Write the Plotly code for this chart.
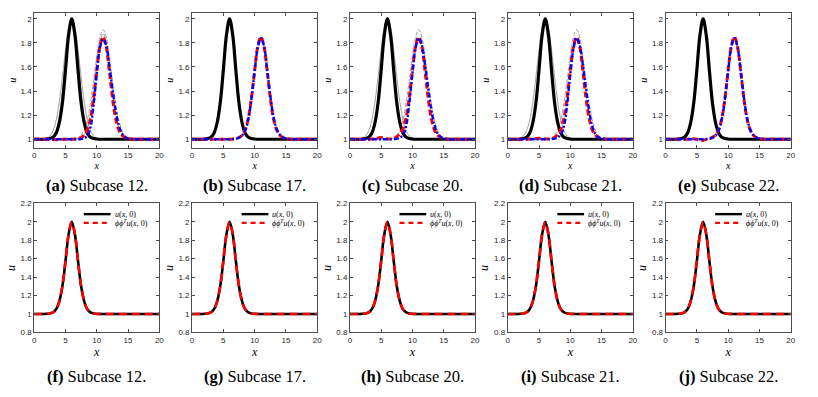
import plotly.graph_objects as go

W, H = 818, 397

# grid of x samples (0 .. 20, step 0.5)
X = [0, 0.5, 1, 1.5, 2, 2.5, 3, 3.5, 4, 4.5,
     5, 5.5, 6, 6.5, 7, 7.5, 8, 8.5, 9, 9.5,
     10, 10.5, 11, 11.5, 12, 12.5, 13, 13.5, 14, 14.5,
     15, 15.5, 16, 16.5, 17, 17.5, 18, 18.5, 19, 19.5,
     20]

SUBCASES = [12, 17, 20, 21, 22]
LETTERS_TOP = ["a", "b", "c", "d", "e"]
LETTERS_BOT = ["f", "g", "h", "i", "j"]

# initial condition u(x,0)
U0 = [1, 1, 1, 1, 1.002, 1.006, 1.017, 1.05, 1.135, 1.30,
      1.575, 1.865, 2.0, 1.865, 1.575, 1.30, 1.135, 1.05, 1.017, 1.006,
      1.002, 1, 1, 1, 1, 1, 1, 1, 1, 1,
      1, 1, 1, 1, 1, 1, 1, 1, 1, 1,
      1]

# projection phi phi^T u(x,0)
PROJ = [1.0, 1.0, 1.0, 1.001, 1.001, 1.006, 1.018, 1.05, 1.135, 1.30,
        1.575, 1.865, 1.995, 1.865, 1.575, 1.30, 1.135, 1.05, 1.016, 1.004,
        0.999, 1.001, 1.0, 1.0, 0.999, 1.0, 1.001, 1.0, 1.0, 1.0,
        1.0, 1.0, 1.0, 1.0, 1.0, 1.0, 1.0, 1.0, 1.0, 1.0,
        1.0]

# reference solutions at final time (red dashed)
RED_12 = [1, 1, 1, 1, 1, 1, 0.997, 0.996, 0.998, 1,
          1, 1, 1, 1.002, 1.005, 1.014, 1.035, 1.08, 1.175, 1.345,
          1.57, 1.77, 1.85, 1.77, 1.57, 1.345, 1.175, 1.08, 1.035, 1.014,
          1.005, 1.002, 1, 1, 1, 1, 1, 1, 1, 1,
          1]
RED_17 = [1, 1, 1, 1, 1, 1, 1, 1, 1, 1,
          1, 1, 1, 1.002, 1.005, 1.014, 1.035, 1.08, 1.175, 1.345,
          1.57, 1.77, 1.85, 1.77, 1.57, 1.345, 1.175, 1.08, 1.035, 1.014,
          1.005, 1.002, 1, 1, 1, 1, 1, 1, 1, 1,
          1]
RED_20 = [1, 1, 1, 1, 1, 1, 1, 1.002, 1.005, 1.01,
          1.015, 1.01, 1.003, 1.003, 1.008, 1.02, 1.045, 1.09, 1.185, 1.35,
          1.57, 1.77, 1.85, 1.77, 1.57, 1.345, 1.175, 1.08, 1.035, 1.014,
          1.005, 1.002, 1, 1, 1, 1, 1, 1, 1, 1,
          1]
RED_21 = [1, 1, 1, 1, 1, 1, 1, 1.001, 1.003, 1.006,
          1.008, 1.005, 1.002, 1.003, 1.007, 1.017, 1.04, 1.085, 1.18, 1.35,
          1.57, 1.77, 1.85, 1.77, 1.57, 1.345, 1.175, 1.08, 1.035, 1.014,
          1.005, 1.002, 1, 1, 1, 1, 1, 1, 1, 1,
          1]
RED_22 = [1, 1, 1, 1, 1, 1, 1, 1, 1.002, 1.005,
          1.0, 0.992, 0.99, 1.0, 1.007, 1.016, 1.035, 1.08, 1.175, 1.345,
          1.57, 1.77, 1.85, 1.77, 1.57, 1.345, 1.175, 1.08, 1.035, 1.014,
          1.005, 1.002, 1, 1, 1, 1, 1, 1, 1, 1,
          1]

# ROM predictions (blue dash-dot)
BLUE_12 = [1, 1, 1, 1, 1, 1, 1, 1, 1, 1,
           1, 1, 1, 1, 1.0, 1.002, 1.008, 1.03, 1.10, 1.29,
           1.55, 1.76, 1.83, 1.78, 1.61, 1.42, 1.24, 1.12, 1.05, 1.02,
           1.007, 1.002, 1, 1, 1, 1, 1, 1, 1, 1,
           1]
BLUE_17 = [1, 1, 1, 1, 1, 1, 1, 1, 1, 1,
           1, 1, 1, 1.001, 1.004, 1.012, 1.032, 1.075, 1.17, 1.34,
           1.56, 1.76, 1.84, 1.775, 1.58, 1.36, 1.19, 1.09, 1.04, 1.016,
           1.006, 1.002, 1, 1, 1, 1, 1, 1, 1, 1,
           1]
BLUE_20 = [1, 1, 1, 1, 1, 1, 1, 1, 1, 1,
           1, 1, 1, 1, 1.001, 1.004, 1.012, 1.035, 1.11, 1.30,
           1.55, 1.76, 1.84, 1.78, 1.62, 1.43, 1.25, 1.12, 1.05, 1.02,
           1.007, 1.002, 1, 1, 1, 1, 1, 1, 1, 1,
           1]
BLUE_21 = [1, 1, 1, 1, 1, 1, 1, 1, 1, 1,
           1, 1, 1, 1, 1.001, 1.005, 1.015, 1.04, 1.11, 1.29,
           1.54, 1.75, 1.84, 1.78, 1.62, 1.42, 1.24, 1.11, 1.045, 1.017,
           1.006, 1.002, 1, 1, 1, 1, 1, 1, 1, 1,
           1]
BLUE_22 = [1, 1, 1, 1, 1, 1, 1, 1, 1, 1,
           1, 1, 1, 1.001, 1.004, 1.012, 1.032, 1.075, 1.17, 1.34,
           1.565, 1.765, 1.84, 1.765, 1.575, 1.355, 1.185, 1.085, 1.038, 1.015,
           1.005, 1.002, 1, 1, 1, 1, 1, 1, 1, 1,
           1]

# thin grey training curves (initial, final)
GREY_INIT_WIDE = [1, 1, 1, 1.002, 1.009, 1.027, 1.07, 1.157, 1.306, 1.514,
                  1.744, 1.929, 2.0, 1.929, 1.744, 1.514, 1.306, 1.157, 1.07, 1.027,
                  1.009, 1.002, 1, 1, 1, 1, 1, 1, 1, 1,
                  1, 1, 1, 1, 1, 1, 1, 1, 1, 1,
                  1]
GREY_INIT_NARROW = [1, 1, 1, 1, 1.001, 1.006, 1.024, 1.076, 1.191, 1.395,
                    1.662, 1.902, 2.0, 1.902, 1.662, 1.395, 1.191, 1.076, 1.024, 1.006,
                    1.001, 1, 1, 1, 1, 1, 1, 1, 1, 1,
                    1, 1, 1, 1, 1, 1, 1, 1, 1, 1,
                    1]
GREY_FINAL_WIDE = [1, 1, 1, 1, 1, 1, 1, 1, 1, 1,
                   1, 1, 1.001, 1.003, 1.011, 1.032, 1.077, 1.164, 1.304, 1.491,
                   1.692, 1.85, 1.91, 1.85, 1.692, 1.491, 1.304, 1.164, 1.077, 1.032,
                   1.011, 1.003, 1.001, 1, 1, 1, 1, 1, 1, 1,
                   1]
GREY_FINAL_NARROW = [1, 1, 1, 1, 1, 1, 1, 1, 1, 1,
                     1, 1, 1, 1.001, 1.004, 1.013, 1.039, 1.1, 1.219, 1.403,
                     1.621, 1.807, 1.88, 1.807, 1.621, 1.403, 1.219, 1.1, 1.039, 1.013,
                     1.004, 1.001, 1, 1, 1, 1, 1, 1, 1, 1,
                     1]

TOP_Y_TICKS = [1, 1.2, 1.4, 1.6, 1.8, 2]
BOT_Y_TICKS = [0.8, 1, 1.2, 1.4, 1.6, 1.8, 2, 2.2]
X_TICKS = [0, 5, 10, 15, 20]

panels_top = [
    (RED_12, BLUE_12, [GREY_INIT_WIDE, GREY_INIT_NARROW], [GREY_FINAL_WIDE, GREY_FINAL_NARROW]),
    (RED_17, BLUE_17, [], []),
    (RED_20, BLUE_20, [GREY_INIT_WIDE], [GREY_FINAL_WIDE]),
    (RED_21, BLUE_21, [GREY_INIT_WIDE], [GREY_FINAL_WIDE]),
    (RED_22, BLUE_22, [], []),
]


def px(x):
    return x / W


def py(y):
    return 1 - y / H


AX_COLOR = "#4d4d4d"
TICK_FONT = dict(family="Liberation Sans", size=8, color="#262626")
SERIF = "Liberation Serif"

fig = go.Figure()
layout = {}
annotations = []
shapes = []

for k in range(10):
    row, col = divmod(k, 5)
    left = 32.5 + 159.2 * col
    right = 158.7 + 159.2 * col
    if row == 0:
        top, bot = 9, 147
        ulab_size = 10
    else:
        top, bot = 204, 336
        ulab_size = 12
    xa = "x" if k == 0 else f"x{k + 1}"
    ya = "y" if k == 0 else f"y{k + 1}"
    xkey = "xaxis" if k == 0 else f"xaxis{k + 1}"
    ykey = "yaxis" if k == 0 else f"yaxis{k + 1}"

    common = dict(showline=True, linecolor=AX_COLOR, linewidth=0.8, mirror="ticks",
                  ticks="inside", ticklen=3, tickcolor=AX_COLOR, tickwidth=0.6,
                  showgrid=False, zeroline=False, tickfont=TICK_FONT, fixedrange=True)
    layout[xkey] = dict(common, domain=[px(left), px(right)], anchor=ya,
                        range=[0, 20], tickmode="array", tickvals=X_TICKS,
                        ticktext=[str(t) for t in X_TICKS],
                        title=dict(text="<i>x</i>", standoff=2,
                                   font=dict(family=SERIF, size=ulab_size, color="black")))
    if row == 0:
        yt = TOP_Y_TICKS
        yr = [0.93, 2.05]
    else:
        yt = BOT_Y_TICKS
        yr = [0.8, 2.2]
    layout[ykey] = dict(common, domain=[py(bot), py(top)], anchor=xa, range=yr,
                        tickmode="array", tickvals=yt, ticktext=[f"{t:g}" for t in yt],
                        title=dict(text="<i>u</i>", standoff=2,
                                   font=dict(family=SERIF, size=ulab_size, color="black")))

    if row == 0:
        red, blue, g_init, g_final = panels_top[col]
        for g in g_init:
            fig.add_trace(go.Scatter(x=X, y=g, xaxis=xa, yaxis=ya, mode="lines",
                                     line=dict(color="#7a7a7a", width=0.7, shape="spline"),
                                     showlegend=False))
        for g in g_final:
            fig.add_trace(go.Scatter(x=X, y=g, xaxis=xa, yaxis=ya, mode="lines",
                                     line=dict(color="#7a7a7a", width=0.7, dash="4px,2px",
                                               shape="spline"),
                                     showlegend=False))
        fig.add_trace(go.Scatter(x=X, y=U0, xaxis=xa, yaxis=ya, mode="lines",
                                 line=dict(color="black", width=3.2, shape="spline"),
                                 showlegend=False))
        fig.add_trace(go.Scatter(x=X, y=red, xaxis=xa, yaxis=ya, mode="lines",
                                 line=dict(color="#ff0000", width=3, dash="6px,3px",
                                           shape="spline"),
                                 showlegend=False))
        fig.add_trace(go.Scatter(x=X, y=blue, xaxis=xa, yaxis=ya, mode="lines",
                                 line=dict(color="#0000ff", width=2.4, dash="5px,2px,2px,2px",
                                           shape="spline"),
                                 showlegend=False))
        cap_y = 186
        letter = LETTERS_TOP[col]
    else:
        fig.add_trace(go.Scatter(x=X, y=U0, xaxis=xa, yaxis=ya, mode="lines",
                                 line=dict(color="black", width=2.6, shape="spline"),
                                 showlegend=False))
        fig.add_trace(go.Scatter(x=X, y=PROJ, xaxis=xa, yaxis=ya, mode="lines",
                                 line=dict(color="#ff0000", width=2.6, dash="8px,5px",
                                           shape="spline"),
                                 showlegend=False))
        # legend drawn in the upper right of each panel
        shapes.append(dict(type="line", xref="paper", yref="paper",
                           x0=px(left + 50), x1=px(left + 77), y0=py(215), y1=py(215),
                           line=dict(color="black", width=2.4)))
        shapes.append(dict(type="line", xref="paper", yref="paper",
                           x0=px(left + 50), x1=px(left + 77), y0=py(224), y1=py(224),
                           line=dict(color="#ff0000", width=2.4, dash="5px,4px")))
        annotations.append(dict(xref="paper", yref="paper", x=px(left + 79), y=py(215),
                                xanchor="left", yanchor="middle", showarrow=False,
                                text="<i>u</i>(<i>x</i>, 0)",
                                font=dict(family=SERIF, size=8, color="black")))
        annotations.append(dict(xref="paper", yref="paper", x=px(left + 79), y=py(224),
                                xanchor="left", yanchor="middle", showarrow=False,
                                text="<i>ϕϕ</i><sup><i>T</i></sup><i>u</i>(<i>x</i>, 0)",
                                font=dict(family=SERIF, size=8, color="black")))
        cap_y = 381
        letter = LETTERS_BOT[col]

    cx = (left + right) / 2
    annotations.append(dict(xref="paper", yref="paper", x=px(cx), y=py(cap_y),
                            xanchor="center", yanchor="middle", showarrow=False,
                            text=f"<b>({letter})</b> Subcase {SUBCASES[col]}.",
                            font=dict(family=SERIF, size=16.5, color="black")))

fig.update_layout(**layout)
fig.update_layout(width=W, height=H, margin=dict(l=0, r=0, t=0, b=0),
                  paper_bgcolor="white", plot_bgcolor="white",
                  annotations=annotations, shapes=shapes, showlegend=False)

# the page's default body margin would push the figure out of the window
fig.write_html("out.html", config={"displayModeBar": False},
               post_script="document.body.style.margin='0';")
